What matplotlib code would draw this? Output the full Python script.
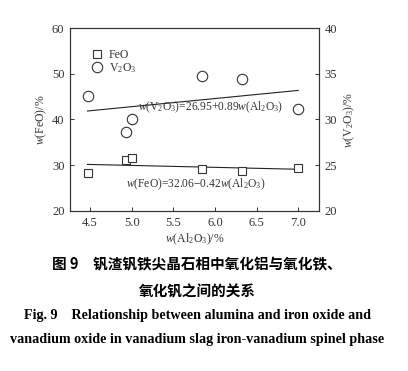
import matplotlib.pyplot as plt
import numpy as np

plt.rcParams['font.family'] = ['Liberation Serif', 'DejaVu Serif']
plt.rcParams['mathtext.fontset'] = 'custom'
plt.rcParams['mathtext.rm'] = 'Liberation Serif'
plt.rcParams['mathtext.it'] = 'Liberation Serif:italic'

# data
al2o3 = [4.47, 4.93, 5.00, 5.85, 6.32, 7.00]
feo = [28.2, 31.1, 31.6, 29.1, 28.7, 29.3]
v2o3 = [32.6, 28.6, 30.05, 34.75, 34.4, 31.2]

# fit coefficients shown in the chart
feo_fit = (32.06, -0.42)
v2o3_fit = (26.95, 0.89)

xticks = [4.5, 5.0, 5.5, 6.0, 6.5, 7.0]
col = '#333333'

fig = plt.figure(figsize=(4.08, 3.71), dpi=100)
ax = fig.add_axes([0.1716, 0.4313, 0.6104, 0.4932])
ax2 = ax.twinx()

ax.plot(al2o3, feo, 's', mfc='white', mec=col, ms=6, mew=0.8, label='FeO', zorder=3)
ax2.plot(al2o3, v2o3, 'o', mfc='white', mec=col, ms=7.5, mew=0.8, zorder=3)
# legend proxy for V2O3 on main axes
ax.plot([], [], 'o', mfc='white', mec=col, ms=7.5, mew=0.8, label=r'V$_2$O$_3$')

xs = np.array([al2o3[0], al2o3[-1]])
ax.plot(xs, feo_fit[0] + feo_fit[1] * xs, color='#222222', lw=0.8)
ax2.plot(xs, v2o3_fit[0] + v2o3_fit[1] * xs, color='#222222', lw=0.8)

ax.set_xlim(4.26, 7.25)
ax.set_ylim(20, 60)
ax2.set_ylim(20, 40)
ax.set_xticks(xticks)
ax.set_xticklabels([f'{t:.1f}' for t in xticks])
ax.set_yticks([20, 30, 40, 50, 60])
ax2.set_yticks([20, 25, 30, 35, 40])

for a in (ax, ax2):
    a.tick_params(direction='in', length=3, width=0.7, color=col,
                  labelsize=9, labelcolor='#333333', pad=4)
    for s in a.spines.values():
        s.set_color(col)
        s.set_linewidth(0.8)

ax.set_xlabel(r'$w$(Al$_2$O$_3$)/%', fontsize=8.5, color='#333333', labelpad=2)
ax.set_ylabel(r'$w$(FeO)/%', fontsize=8.5, color='#333333', labelpad=2)
ax2.set_ylabel(r'$w$(V$_2$O$_3$)/%', fontsize=8.5, color='#333333', labelpad=3)

ax.legend(loc='upper left', bbox_to_anchor=(0.066, 0.91), frameon=False,
          fontsize=8.5, handlelength=1.0, handletextpad=0.5,
          labelspacing=0.0, borderaxespad=0, labelcolor='#333333')

ax2.text(5.95, 31.3, r'$w$(V$_2$O$_3$)=26.95+0.89$w$(Al$_2$O$_3$)',
         fontsize=8.3, color='#333333', ha='center', va='center')
ax.text(5.77, 25.8, r'$w$(FeO)=32.06$-$0.42$w$(Al$_2$O$_3$)',
        fontsize=8.3, color='#333333', ha='center', va='center')

cjk = ['Noto Sans CJK SC', 'DejaVu Sans']
cx = 0.483
fig.text(cx, 1 - 264 / 371, '图 9　钒渣钒铁尖晶石相中氧化铝与氧化铁、',
         family=cjk, fontweight='bold', fontsize=10.5, ha='center', va='center')
fig.text(cx, 1 - 291 / 371, '氧化钒之间的关系',
         family=cjk, fontweight='bold', fontsize=10.5, ha='center', va='center')
fig.text(cx, 1 - 315 / 371, 'Fig. 9    Relationship between alumina and iron oxide and',
         fontweight='bold', fontsize=10.2, ha='center', va='center')
fig.text(cx, 1 - 339 / 371, 'vanadium oxide in vanadium slag iron-vanadium spinel phase',
         fontweight='bold', fontsize=10.2, ha='center', va='center')

fig.savefig('out.png', dpi=100)
